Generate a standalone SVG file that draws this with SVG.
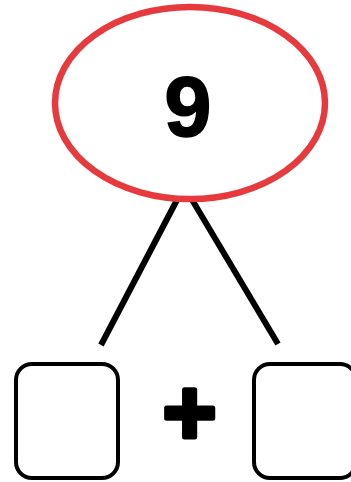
<svg xmlns="http://www.w3.org/2000/svg" width="351" height="482" viewBox="0 0 351 482">
<style>
.box{fill:#fff;stroke:#000;stroke-width:4}
.conn{stroke:#000;stroke-width:6;fill:none}
</style>
<rect width="351" height="482" fill="#fff"/>
<g id="connectors">
<line class="conn" x1="178" y1="198" x2="101" y2="345"/>
<line class="conn" x1="191" y1="198" x2="278" y2="344"/>
</g>
<g id="top">
<ellipse cx="190" cy="103" rx="135" ry="96" fill="#fff" stroke="#e63a3e" stroke-width="6.5"/>
<text x="188" y="136" font-family="Liberation Sans, Arial, sans-serif" font-weight="bold" font-size="85" text-anchor="middle" stroke="#000" stroke-width="1.5">9</text>
</g>
<g id="left">
<rect class="box" x="16" y="364" width="102" height="114" rx="16"/>
</g>
<g id="plus">
<text x="189.5" y="444" font-family="Liberation Sans, Arial, sans-serif" font-weight="bold" font-size="92" text-anchor="middle" stroke="#000" stroke-width="5" stroke-linejoin="round">+</text>
</g>
<g id="right">
<rect class="box" x="254" y="364" width="102" height="114" rx="16"/>
</g>
</svg>
